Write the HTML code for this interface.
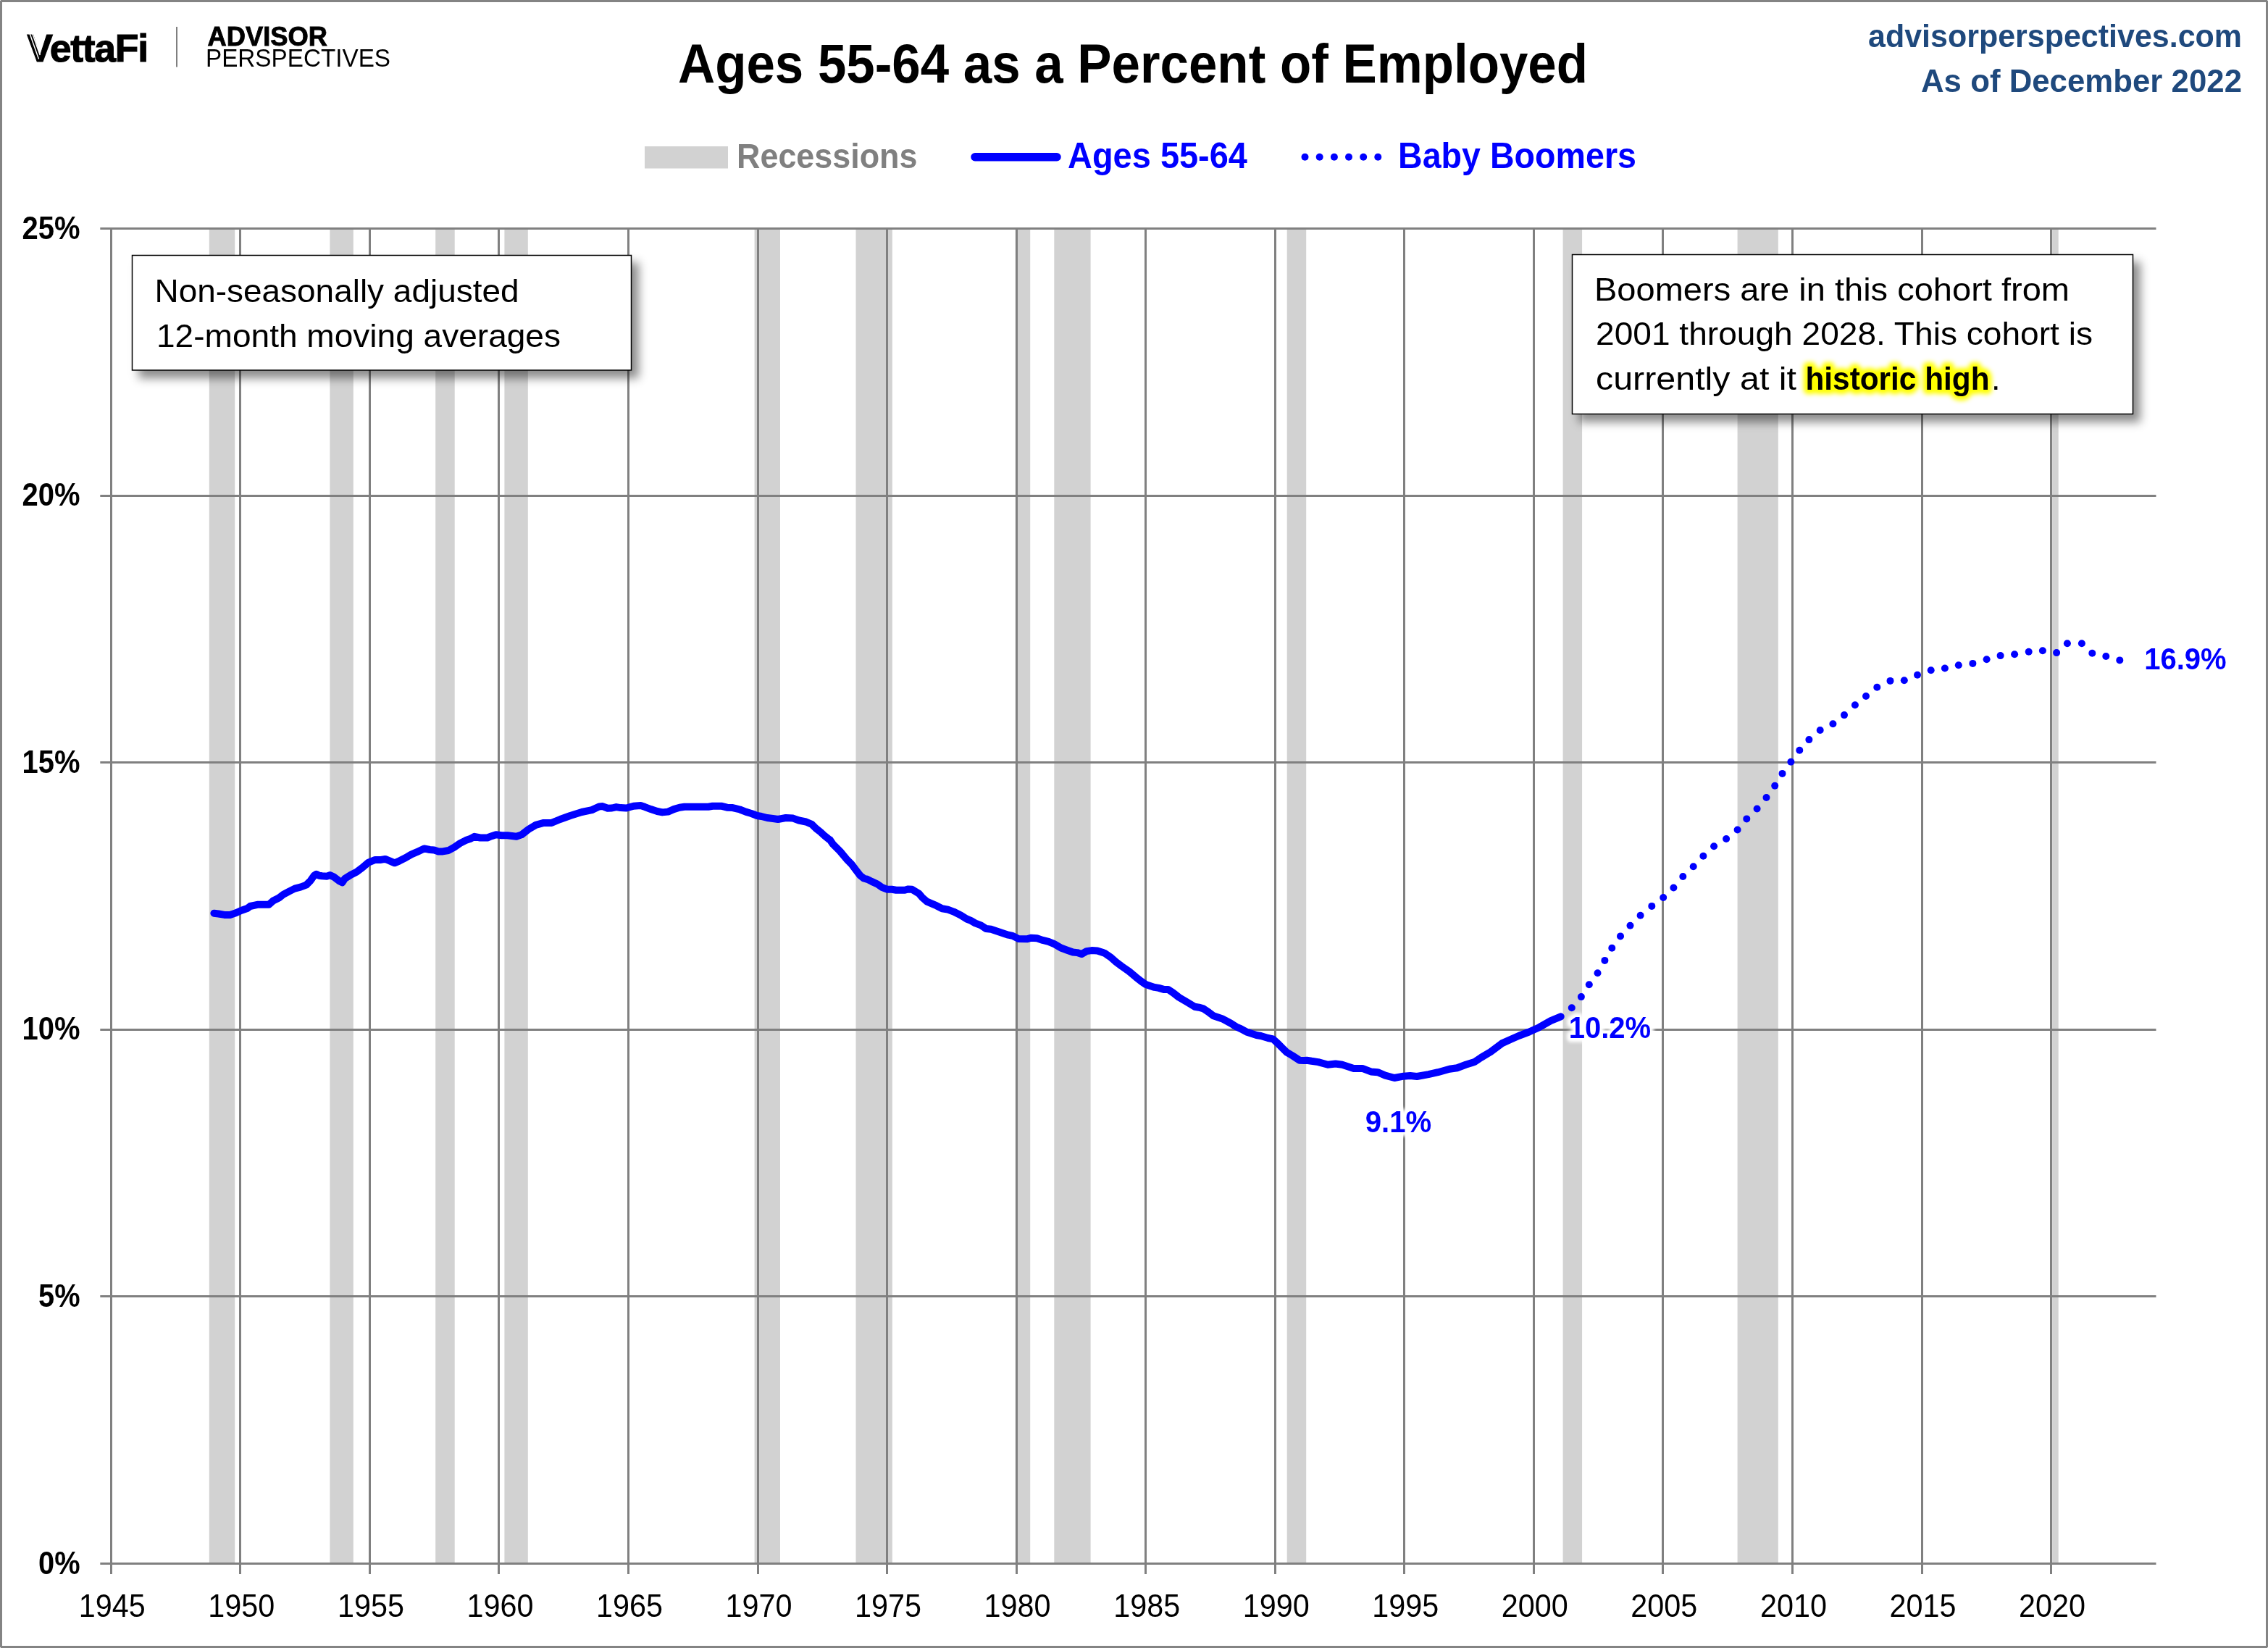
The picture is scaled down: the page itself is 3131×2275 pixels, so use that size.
<!DOCTYPE html>
<html lang="en"><head><meta charset="utf-8"><title>Ages 55-64 as a Percent of Employed</title>
<style>
html,body{margin:0;padding:0;background:#fff;}
body{width:3131px;height:2275px;overflow:hidden;}
svg{display:block;will-change:transform;}
text{font-family:"Liberation Sans", Arial, sans-serif;}
.b{font-weight:bold;}
</style></head><body>
<svg width="3131" height="2275" viewBox="0 0 3131 2275">
<defs>
<filter id="sh" x="-10%" y="-20%" width="125%" height="150%"><feDropShadow dx="9.5" dy="10.5" stdDeviation="6.5" flood-color="#000" flood-opacity="0.45"/></filter>
<filter id="glowW" x="-20%" y="-40%" width="140%" height="180%"><feGaussianBlur stdDeviation="2.2"/></filter>
<filter id="glowY" x="-10%" y="-40%" width="120%" height="180%"><feGaussianBlur stdDeviation="3"/></filter>
</defs>
<rect x="0" y="0" width="3131" height="2275" fill="#fff"/>

<g fill="#d2d2d2">
<rect x="288.8" y="316" width="35.4" height="1841"/>
<rect x="455.4" y="316" width="32.4" height="1841"/>
<rect x="601.2" y="316" width="26.5" height="1841"/>
<rect x="696.4" y="316" width="32.4" height="1841"/>
<rect x="1041.6" y="316" width="35.4" height="1841"/>
<rect x="1181.5" y="316" width="50.3" height="1841"/>
<rect x="1401.7" y="316" width="20.5" height="1841"/>
<rect x="1455.3" y="316" width="50.3" height="1841"/>
<rect x="1776.7" y="316" width="26.5" height="1841"/>
<rect x="2157.6" y="316" width="26.5" height="1841"/>
<rect x="2398.6" y="316" width="56.2" height="1841"/>
<rect x="2833.1" y="316" width="8.6" height="1841"/>
</g>
<g stroke="#808080" stroke-width="3" fill="none">
<line x1="138.3" y1="2158.5" x2="2976.5" y2="2158.5"/>
<line x1="138.3" y1="1789.5" x2="2976.5" y2="1789.5"/>
<line x1="138.3" y1="1421.5" x2="2976.5" y2="1421.5"/>
<line x1="138.3" y1="1052.5" x2="2976.5" y2="1052.5"/>
<line x1="138.3" y1="684.5" x2="2976.5" y2="684.5"/>
<line x1="138.3" y1="315.5" x2="2976.5" y2="315.5"/>
<line x1="153.5" y1="314" x2="153.5" y2="2173"/>
<line x1="331.5" y1="314" x2="331.5" y2="2173"/>
<line x1="510.5" y1="314" x2="510.5" y2="2173"/>
<line x1="688.5" y1="314" x2="688.5" y2="2173"/>
<line x1="867.5" y1="314" x2="867.5" y2="2173"/>
<line x1="1046.5" y1="314" x2="1046.5" y2="2173"/>
<line x1="1224.5" y1="314" x2="1224.5" y2="2173"/>
<line x1="1403.5" y1="314" x2="1403.5" y2="2173"/>
<line x1="1581.5" y1="314" x2="1581.5" y2="2173"/>
<line x1="1760.5" y1="314" x2="1760.5" y2="2173"/>
<line x1="1938.5" y1="314" x2="1938.5" y2="2173"/>
<line x1="2117.5" y1="314" x2="2117.5" y2="2173"/>
<line x1="2295.5" y1="314" x2="2295.5" y2="2173"/>
<line x1="2474.5" y1="314" x2="2474.5" y2="2173"/>
<line x1="2653.5" y1="314" x2="2653.5" y2="2173"/>
<line x1="2831.5" y1="314" x2="2831.5" y2="2173"/>
</g>
<path d="M295.4,1260.7 L301.7,1261.5 L309.7,1262.9 L317.6,1262.9 L325.6,1260.3 L333.5,1256.7 L341.4,1254.0 L345.4,1251.0 L355.3,1248.8 L363.3,1248.8 L371.2,1248.8 L377.1,1243.5 L385.1,1239.5 L391.0,1234.9 L399.0,1230.6 L406.9,1226.6 L414.8,1224.6 L422.8,1221.6 L428.7,1215.7 L433.7,1208.7 L436.7,1206.7 L440.6,1208.7 L444.6,1209.3 L451.5,1209.7 L455.5,1208.1 L460.5,1210.3 L468.4,1216.3 L472.4,1218.3 L476.3,1212.7 L484.3,1207.7 L492.2,1203.8 L500.2,1197.8 L508.1,1190.9 L518.0,1186.9 L526.0,1186.9 L531.9,1185.9 L537.9,1188.3 L544.8,1191.3 L551.7,1188.3 L559.7,1184.3 L567.6,1179.6 L575.6,1176.2 L585.5,1171.4 L593.4,1173.0 L599.4,1173.4 L605.3,1175.4 L611.3,1175.4 L619.2,1174.0 L627.1,1169.6 L635.1,1164.1 L643.0,1160.1 L649.0,1158.1 L654.9,1154.8 L662.9,1156.5 L672.8,1156.5 L678.7,1154.2 L684.7,1152.2 L692.6,1153.2 L700.6,1153.2 L712.9,1154.8 L719.8,1152.4 L729.8,1144.8 L739.7,1138.9 L750.6,1135.9 L761.5,1135.9 L773.4,1131.0 L787.3,1126.0 L803.2,1121.0 L817.1,1118.1 L827.0,1113.5 L831.9,1113.1 L838.9,1115.7 L844.8,1115.5 L850.8,1114.1 L856.7,1115.1 L864.7,1115.5 L874.6,1112.7 L884.5,1112.1 L890.5,1114.1 L898.4,1117.1 L907.3,1120.0 L914.3,1121.4 L922.2,1120.6 L930.2,1117.1 L938.1,1114.7 L945.0,1113.7 L957.9,1113.7 L977.8,1113.7 L983.7,1112.7 L995.6,1112.7 L1003.6,1114.7 L1011.5,1115.1 L1021.4,1117.5 L1029.4,1120.6 L1037.3,1123.0 L1045.2,1126.0 L1051.2,1127.0 L1059.1,1129.0 L1067.1,1130.0 L1074.0,1131.0 L1084.9,1129.0 L1094.8,1129.6 L1102.8,1132.5 L1112.7,1134.5 L1120.6,1137.9 L1126.6,1143.8 L1132.5,1148.4 L1137.9,1153.4 L1138.5,1153.8 L1144.4,1158.7 L1145.9,1159.4 L1149.8,1165.3 L1159.8,1175.2 L1169.7,1187.1 L1175.6,1193.1 L1181.6,1201.0 L1187.5,1208.6 L1192.5,1212.5 L1197.5,1213.9 L1203.4,1216.9 L1211.3,1220.5 L1217.3,1224.8 L1225.2,1227.8 L1231.2,1227.8 L1237.1,1228.8 L1249.0,1228.8 L1254.0,1227.4 L1259.0,1227.8 L1268.9,1233.8 L1272.9,1238.7 L1279.8,1244.7 L1286.7,1247.7 L1292.7,1250.2 L1300.6,1254.2 L1308.6,1255.6 L1316.5,1258.6 L1326.4,1263.5 L1334.4,1268.5 L1340.3,1270.9 L1346.3,1274.4 L1354.2,1277.4 L1361.2,1282.0 L1368.1,1282.8 L1380.0,1286.7 L1391.9,1290.7 L1397.9,1291.9 L1405.8,1295.9 L1417.7,1296.3 L1423.7,1294.7 L1431.6,1295.3 L1439.5,1297.9 L1447.5,1299.8 L1455.4,1303.2 L1465.3,1308.8 L1473.3,1311.7 L1481.2,1314.5 L1487.1,1315.1 L1493.1,1317.1 L1500.0,1313.1 L1507.0,1312.1 L1514.9,1312.5 L1524.8,1315.7 L1532.8,1321.1 L1540.7,1328.0 L1548.7,1334.0 L1558.6,1340.9 L1567.9,1348.7 L1575.9,1355.0 L1581.8,1359.0 L1593.7,1362.9 L1599.7,1363.9 L1606.6,1365.9 L1612.6,1365.9 L1619.5,1370.5 L1627.5,1376.8 L1639.4,1383.8 L1649.3,1389.7 L1655.2,1390.7 L1661.2,1392.3 L1669.1,1397.7 L1675.1,1402.2 L1687.0,1406.2 L1698.9,1412.5 L1706.8,1417.5 L1712.8,1420.1 L1720.7,1424.4 L1734.6,1429.0 L1740.6,1430.0 L1750.5,1433.0 L1757.4,1434.4 L1764.4,1440.7 L1770.3,1446.7 L1776.3,1452.6 L1784.2,1457.2 L1794.1,1463.7 L1800.0,1463.9 L1804.0,1463.7 L1810.6,1464.8 L1819.8,1466.1 L1833.1,1469.8 L1843.7,1468.5 L1852.9,1469.8 L1868.8,1474.9 L1880.7,1474.9 L1892.6,1479.4 L1901.9,1480.2 L1912.4,1484.7 L1925.0,1488.0 L1937.6,1485.7 L1946.8,1485.1 L1956.1,1486.0 L1972.0,1483.1 L1985.2,1480.2 L2001.1,1475.8 L2011.6,1474.2 L2023.5,1469.8 L2035.4,1466.1 L2044.7,1459.9 L2057.9,1452.0 L2073.3,1440.4 L2085.2,1435.0 L2097.1,1429.7 L2111.0,1424.5 L2124.9,1418.2 L2140.8,1409.2 L2148.7,1405.9 L2154.7,1403.3" fill="none" stroke="#0000ff" stroke-width="10" stroke-linecap="round" stroke-linejoin="round"/>
<g fill="#0000ff">
<circle cx="2169.8" cy="1391.2" r="5"/>
<circle cx="2182.9" cy="1376.1" r="5"/>
<circle cx="2193.8" cy="1359.2" r="5"/>
<circle cx="2205.5" cy="1343.2" r="5"/>
<circle cx="2215.4" cy="1325.9" r="5"/>
<circle cx="2225.3" cy="1308.7" r="5"/>
<circle cx="2237.0" cy="1292.4" r="5"/>
<circle cx="2250.5" cy="1277.7" r="5"/>
<circle cx="2264.6" cy="1263.8" r="5"/>
<circle cx="2280.3" cy="1250.9" r="5"/>
<circle cx="2296.2" cy="1239.0" r="5"/>
<circle cx="2310.4" cy="1225.5" r="5"/>
<circle cx="2323.3" cy="1210.0" r="5"/>
<circle cx="2337.7" cy="1196.3" r="5"/>
<circle cx="2351.4" cy="1181.8" r="5"/>
<circle cx="2366.1" cy="1168.3" r="5"/>
<circle cx="2383.1" cy="1158.0" r="5"/>
<circle cx="2398.6" cy="1145.5" r="5"/>
<circle cx="2411.3" cy="1130.4" r="5"/>
<circle cx="2425.6" cy="1116.5" r="5"/>
<circle cx="2438.5" cy="1101.0" r="5"/>
<circle cx="2450.2" cy="1084.8" r="5"/>
<circle cx="2460.5" cy="1067.9" r="5"/>
<circle cx="2472.4" cy="1051.8" r="5"/>
<circle cx="2484.3" cy="1035.8" r="5"/>
<circle cx="2497.4" cy="1021.1" r="5"/>
<circle cx="2512.7" cy="1008.0" r="5"/>
<circle cx="2530.4" cy="999.2" r="5"/>
<circle cx="2546.0" cy="987.1" r="5"/>
<circle cx="2560.9" cy="973.3" r="5"/>
<circle cx="2576.0" cy="961.0" r="5"/>
<circle cx="2591.3" cy="948.7" r="5"/>
<circle cx="2609.5" cy="939.9" r="5"/>
<circle cx="2628.8" cy="939.3" r="5"/>
<circle cx="2647.0" cy="931.8" r="5"/>
<circle cx="2665.7" cy="925.2" r="5"/>
<circle cx="2684.9" cy="922.5" r="5"/>
<circle cx="2703.8" cy="918.2" r="5"/>
<circle cx="2723.4" cy="915.9" r="5"/>
<circle cx="2742.6" cy="910.2" r="5"/>
<circle cx="2761.6" cy="905.1" r="5"/>
<circle cx="2781.1" cy="903.2" r="5"/>
<circle cx="2800.7" cy="899.8" r="5"/>
<circle cx="2819.9" cy="898.3" r="5"/>
<circle cx="2839.1" cy="901.1" r="5"/>
<circle cx="2853.9" cy="888.2" r="5"/>
<circle cx="2873.9" cy="888.2" r="5"/>
<circle cx="2888.3" cy="901.7" r="5"/>
<circle cx="2907.3" cy="906.0" r="5"/>
<circle cx="2926.3" cy="911.4" r="5"/>
</g>
<text x="110.5" y="2172.5" font-size="44" class="b" fill="#000" text-anchor="end" textLength="57.5" lengthAdjust="spacingAndGlyphs">0%</text>
<text x="110.5" y="1803.9" font-size="44" class="b" fill="#000" text-anchor="end" textLength="57.5" lengthAdjust="spacingAndGlyphs">5%</text>
<text x="110.5" y="1435.3" font-size="44" class="b" fill="#000" text-anchor="end" textLength="80" lengthAdjust="spacingAndGlyphs">10%</text>
<text x="110.5" y="1066.7" font-size="44" class="b" fill="#000" text-anchor="end" textLength="80" lengthAdjust="spacingAndGlyphs">15%</text>
<text x="110.5" y="698.1" font-size="44" class="b" fill="#000" text-anchor="end" textLength="80" lengthAdjust="spacingAndGlyphs">20%</text>
<text x="110.5" y="329.5" font-size="44" class="b" fill="#000" text-anchor="end" textLength="80" lengthAdjust="spacingAndGlyphs">25%</text>
<text x="154.8" y="2231.6" font-size="43.5" fill="#000" text-anchor="middle" textLength="92" lengthAdjust="spacingAndGlyphs">1945</text>
<text x="333.3" y="2231.6" font-size="43.5" fill="#000" text-anchor="middle" textLength="92" lengthAdjust="spacingAndGlyphs">1950</text>
<text x="511.9" y="2231.6" font-size="43.5" fill="#000" text-anchor="middle" textLength="92" lengthAdjust="spacingAndGlyphs">1955</text>
<text x="690.4" y="2231.6" font-size="43.5" fill="#000" text-anchor="middle" textLength="92" lengthAdjust="spacingAndGlyphs">1960</text>
<text x="869.0" y="2231.6" font-size="43.5" fill="#000" text-anchor="middle" textLength="92" lengthAdjust="spacingAndGlyphs">1965</text>
<text x="1047.5" y="2231.6" font-size="43.5" fill="#000" text-anchor="middle" textLength="92" lengthAdjust="spacingAndGlyphs">1970</text>
<text x="1226.0" y="2231.6" font-size="43.5" fill="#000" text-anchor="middle" textLength="92" lengthAdjust="spacingAndGlyphs">1975</text>
<text x="1404.6" y="2231.6" font-size="43.5" fill="#000" text-anchor="middle" textLength="92" lengthAdjust="spacingAndGlyphs">1980</text>
<text x="1583.2" y="2231.6" font-size="43.5" fill="#000" text-anchor="middle" textLength="92" lengthAdjust="spacingAndGlyphs">1985</text>
<text x="1761.7" y="2231.6" font-size="43.5" fill="#000" text-anchor="middle" textLength="92" lengthAdjust="spacingAndGlyphs">1990</text>
<text x="1940.2" y="2231.6" font-size="43.5" fill="#000" text-anchor="middle" textLength="92" lengthAdjust="spacingAndGlyphs">1995</text>
<text x="2118.8" y="2231.6" font-size="43.5" fill="#000" text-anchor="middle" textLength="92" lengthAdjust="spacingAndGlyphs">2000</text>
<text x="2297.3" y="2231.6" font-size="43.5" fill="#000" text-anchor="middle" textLength="92" lengthAdjust="spacingAndGlyphs">2005</text>
<text x="2475.9" y="2231.6" font-size="43.5" fill="#000" text-anchor="middle" textLength="92" lengthAdjust="spacingAndGlyphs">2010</text>
<text x="2654.5" y="2231.6" font-size="43.5" fill="#000" text-anchor="middle" textLength="92" lengthAdjust="spacingAndGlyphs">2015</text>
<text x="2833.0" y="2231.6" font-size="43.5" fill="#000" text-anchor="middle" textLength="92" lengthAdjust="spacingAndGlyphs">2020</text>
<text x="936" y="114.1" font-size="75.5" class="b" fill="#000" textLength="1256" lengthAdjust="spacingAndGlyphs">Ages 55-64 as a Percent of Employed</text>
<text x="3095" y="65.4" font-size="45" class="b" fill="#1f497d" text-anchor="end" textLength="516" lengthAdjust="spacingAndGlyphs">advisorperspectives.com</text>
<text x="3095" y="127.4" font-size="45" class="b" fill="#1f497d" text-anchor="end" textLength="443" lengthAdjust="spacingAndGlyphs">As of December 2022</text>
<rect x="890" y="202" width="115" height="30.5" fill="#d2d2d2"/>
<text x="1017" y="232.3" font-size="49" class="b" fill="#808080" textLength="249.5" lengthAdjust="spacingAndGlyphs">Recessions</text>
<line x1="1346" y1="216.8" x2="1459" y2="216.8" stroke="#0000ff" stroke-width="11.5" stroke-linecap="round"/>
<text x="1474" y="232.3" font-size="49.5" class="b" fill="#0000ff" textLength="248" lengthAdjust="spacingAndGlyphs">Ages 55-64</text>
<g fill="#0000ff"><circle cx="1801.5" cy="216.7" r="5"/><circle cx="1821.7" cy="216.7" r="5"/><circle cx="1841.9" cy="216.7" r="5"/><circle cx="1862" cy="216.7" r="5"/><circle cx="1882.2" cy="216.7" r="5"/><circle cx="1902.3" cy="216.7" r="5"/></g>
<text x="1930" y="232.3" font-size="49.5" class="b" fill="#0000ff" textLength="329" lengthAdjust="spacingAndGlyphs">Baby Boomers</text>
<rect x="182.5" y="352.5" width="689" height="158.5" fill="#fff" stroke="#000" stroke-width="1.5" filter="url(#sh)"/>
<text x="213.5" y="416.7" font-size="45" fill="#000" textLength="503" lengthAdjust="spacingAndGlyphs">Non-seasonally adjusted</text>
<text x="216" y="479" font-size="45" fill="#000" textLength="558" lengthAdjust="spacingAndGlyphs">12-month moving averages</text>
<rect x="2170.5" y="351.5" width="774" height="220" fill="#fff" stroke="#000" stroke-width="1.5" filter="url(#sh)"/>
<text x="2201" y="415.1" font-size="45" fill="#000" textLength="656" lengthAdjust="spacingAndGlyphs">Boomers are in this cohort from</text>
<text x="2203" y="476.2" font-size="45" fill="#000" textLength="686" lengthAdjust="spacingAndGlyphs">2001 through 2028. This cohort is</text>
<text x="2203" y="538.1" font-size="45" fill="#000" textLength="277" lengthAdjust="spacingAndGlyphs">currently at it</text>
<text x="2492.5" y="538.1" font-size="45" class="b" fill="#ffff00" textLength="254" lengthAdjust="spacingAndGlyphs" stroke="#ffff00" stroke-width="12" stroke-linejoin="round" filter="url(#glowY)">historic high</text>
<text x="2492.5" y="538.1" font-size="45" class="b" fill="#000" textLength="254" lengthAdjust="spacingAndGlyphs">historic high</text>
<text x="2749" y="538.1" font-size="45" fill="#000">.</text>
<text x="1884.7" y="1563.4" font-size="43" class="b" fill="#fff" textLength="91.5" lengthAdjust="spacingAndGlyphs" stroke="#fff" stroke-width="11" stroke-linejoin="round" filter="url(#glowW)">9.1%</text>
<text x="1884.7" y="1563.4" font-size="43" class="b" fill="#0000ff" textLength="91.5" lengthAdjust="spacingAndGlyphs">9.1%</text>
<text x="2165.7" y="1433" font-size="43" class="b" fill="#fff" textLength="113.5" lengthAdjust="spacingAndGlyphs" stroke="#fff" stroke-width="11" stroke-linejoin="round" filter="url(#glowW)">10.2%</text>
<text x="2165.7" y="1433" font-size="43" class="b" fill="#0000ff" textLength="113.5" lengthAdjust="spacingAndGlyphs">10.2%</text>
<text x="2960.2" y="923.7" font-size="43" class="b" fill="#fff" textLength="113.5" lengthAdjust="spacingAndGlyphs" stroke="#fff" stroke-width="11" stroke-linejoin="round" filter="url(#glowW)">16.9%</text>
<text x="2960.2" y="923.7" font-size="43" class="b" fill="#0000ff" textLength="113.5" lengthAdjust="spacingAndGlyphs">16.9%</text>
<g transform="translate(37.3,84.5) scale(0.982,1)"><text x="0" y="0" font-size="54.5" class="b" letter-spacing="-1.3" stroke="#000" stroke-width="1.1">VettaFi</text></g>
<g stroke="#fff" stroke-width="1.5"><line x1="40.6" y1="45" x2="53.5" y2="81.5"/><line x1="44.2" y1="45" x2="55.2" y2="76"/></g>
<line x1="244" y1="37" x2="244" y2="92.5" stroke="#555" stroke-width="1.5"/>
<text x="286.5" y="63.3" font-size="37.2" class="b" fill="#000" textLength="165.5" lengthAdjust="spacingAndGlyphs" stroke="#000" stroke-width="0.9">ADVISOR</text>
<text x="284" y="92.2" font-size="35.6" fill="#000" textLength="255" lengthAdjust="spacingAndGlyphs">PERSPECTIVES</text>
<rect x="1.5" y="1.5" width="3128" height="2272" fill="none" stroke="#848484" stroke-width="3"/>
<g fill="#fff" fill-opacity="0.85"><rect x="0" y="0" width="1" height="1"/><rect x="3130" y="0" width="1" height="1"/><rect x="0" y="2274" width="1" height="1"/><rect x="3130" y="2274" width="1" height="1"/></g>
</svg></body></html>
